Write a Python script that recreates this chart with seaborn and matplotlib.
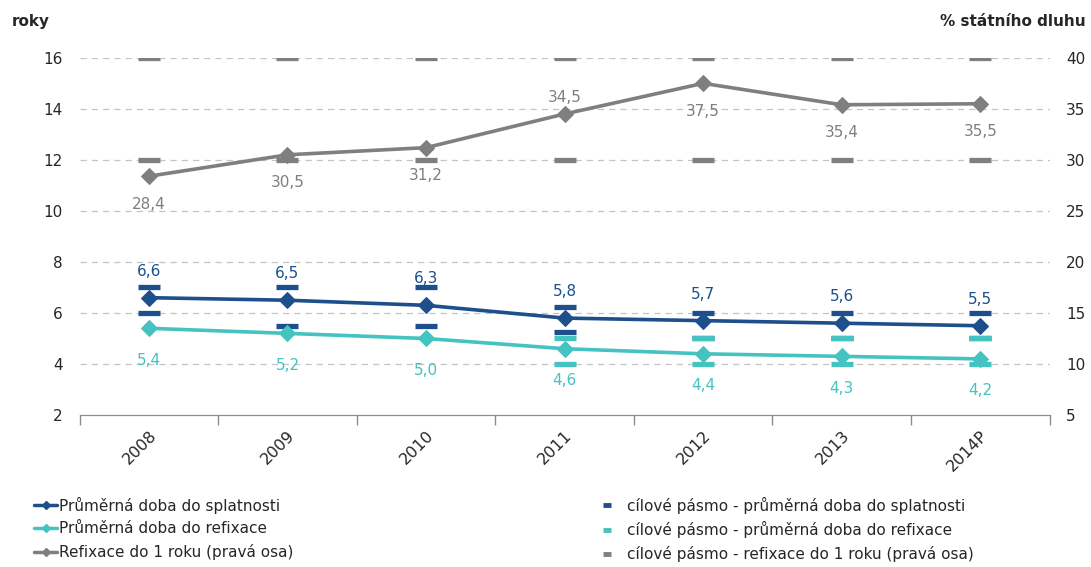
import numpy as np
import pandas as pd
import matplotlib
matplotlib.use('Agg')
import matplotlib.pyplot as plt
import seaborn as sns
from matplotlib.lines import Line2D

years = ['2008', '2009', '2010', '2011', '2012', '2013', '2014P']
splatnost = [6.6, 6.5, 6.3, 5.8, 5.7, 5.6, 5.5]
refixace = [5.4, 5.2, 5.0, 4.6, 4.4, 4.3, 4.2]
refix_1rok = [28.4, 30.5, 31.2, 34.5, 37.5, 35.4, 35.5]

# cilove pasmo (target bands), None = no marker
spl_low = [6.0, 5.5, 5.5, 5.25, 5.0, 5.0, 5.0]
spl_high = [7.0, 7.0, 7.0, 6.25, 6.0, 6.0, 6.0]
ref_low = [None, None, None, 4.0, 4.0, 4.0, 4.0]
ref_high = [None, None, None, 5.0, 5.0, 5.0, 5.0]
r1_low = [30, 30, 30, 30, 30, 30, 30]
r1_high = [40, 40, 40, 40, 40, 40, 40]

c_dark = '#1c4f8c'
c_cyan = '#44c3c1'
c_gray = '#7f7f7f'

sns.set_style('white')
plt.rcParams['font.family'] = ['DejaVu Sans']

fig = plt.figure(figsize=(10.91, 5.67), dpi=100)
ax = fig.add_axes([0.073, 0.268, 0.889, 0.630])
ax2 = ax.twinx()

x = np.arange(len(years))
df = pd.DataFrame({'x': x, 'spl': splatnost, 'ref': refixace, 'r1': refix_1rok})

# grid
for v in range(4, 17, 2):
    ax.axhline(v, color='#c4c4c4', lw=0.9, ls=(0, (5, 4)), zorder=0)

# target band markers
def band(axis, vals, color):
    xs = [xi for xi, v in zip(x, vals) if v is not None]
    ys = [v for v in vals if v is not None]
    axis.plot(xs, ys, ls='none', marker='_', ms=16, mew=3.8, color=color,
              zorder=3)

band(ax, spl_high, c_dark)
band(ax, spl_low, c_dark)
band(ax, ref_high, c_cyan)
band(ax, ref_low, c_cyan)
band(ax2, r1_low, c_gray)
band(ax2, r1_high, c_gray)

sns.lineplot(data=df, x='x', y='spl', ax=ax, color=c_dark, lw=2.6,
             marker='D', markersize=8, markeredgecolor=c_dark, zorder=4)
sns.lineplot(data=df, x='x', y='ref', ax=ax, color=c_cyan, lw=2.6,
             marker='D', markersize=8, markeredgecolor=c_cyan, zorder=4)
sns.lineplot(data=df, x='x', y='r1', ax=ax2, color=c_gray, lw=2.6,
             marker='D', markersize=8, markeredgecolor=c_gray, zorder=4)

fmt = lambda v: f'{v:.1f}'.replace('.', ',')
for xi, v in zip(x, splatnost):
    ax.annotate(fmt(v), (xi, v), xytext=(0, 19), textcoords='offset points',
                ha='center', va='center', color=c_dark, fontsize=11)
for xi, v in zip(x, refixace):
    ax.annotate(fmt(v), (xi, v), xytext=(0, -23), textcoords='offset points',
                ha='center', va='center', color=c_cyan, fontsize=11)
for xi, v in zip(x, refix_1rok):
    off = 12 if years[xi] == '2011' else -20
    ax2.annotate(fmt(v), (xi, v), xytext=(0, off), textcoords='offset points',
                 ha='center', va='center', color=c_gray, fontsize=11)

ax.set_xlim(-0.5, len(years) - 0.5)
ax.set_ylim(2, 16)
ax2.set_ylim(5, 40)
ax.set_yticks(range(2, 17, 2))
ax2.set_yticks(range(5, 41, 5))
ax.set_xticks(x)
ax.set_xticklabels(years, rotation=45, ha='right', rotation_mode='anchor')
ax.set_xticks(np.arange(-0.5, len(years), 1), minor=True)
ax.tick_params(axis='x', which='major', length=0, pad=9, labelsize=11.5)
ax.tick_params(axis='x', which='minor', length=7, color='#8c8c8c', width=1,
               direction='out', bottom=True)
ax.tick_params(axis='y', length=0, labelsize=11, pad=12)
ax2.tick_params(axis='y', length=0, labelsize=11, pad=12)
ax.set_xlabel('')
ax.set_ylabel('')
ax2.set_ylabel('')
for a in (ax, ax2):
    for s in ('top', 'left', 'right'):
        a.spines[s].set_visible(False)
    a.spines['bottom'].set_color('#8c8c8c')

fig.text(0.011, 0.962, 'roky', fontsize=11, fontweight='bold', ha='left', va='center')
fig.text(0.995, 0.962, '% státního dluhu', fontsize=11, fontweight='bold',
         ha='right', va='center')

h1 = [Line2D([], [], color=c, lw=2.5, marker='D', ms=4) for c in (c_dark, c_cyan, c_gray)]
l1 = ['Průměrná doba do splatnosti', 'Průměrná doba do refixace',
      'Refixace do 1 roku (pravá osa)']
h2 = [Line2D([], [], color=c, ls='none', marker='_', ms=6, mew=3.5) for c in (c_dark, c_cyan, c_gray)]
l2 = ['cílové pásmo - průměrná doba do splatnosti',
      'cílové pásmo - průměrná doba do refixace',
      'cílové pásmo - refixace do 1 roku (pravá osa)']
leg1 = fig.legend(h1, l1, loc='upper left', bbox_to_anchor=(0.026, 0.135),
                  frameon=False, fontsize=11, handlelength=1.5, handletextpad=0.1,
                  labelspacing=0.5, borderaxespad=0)
leg2 = fig.legend(h2, l2, loc='upper left', bbox_to_anchor=(0.54, 0.135),
                  frameon=False, fontsize=11, handlelength=1.5, handletextpad=0.6,
                  labelspacing=0.5, borderaxespad=0)

fig.savefig('out.png', dpi=100)
